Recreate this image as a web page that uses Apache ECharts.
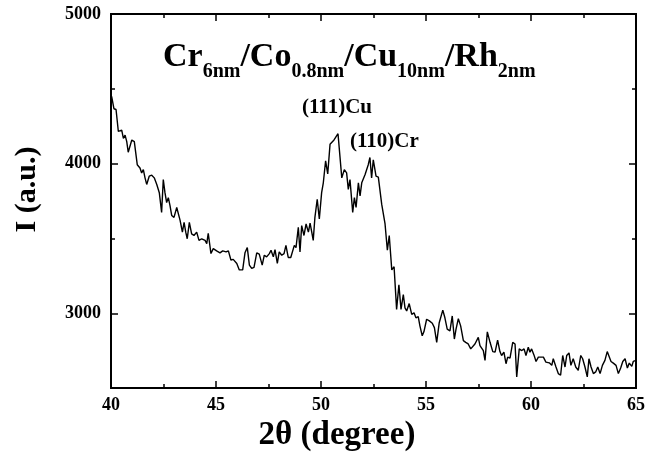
<!DOCTYPE html>
<html>
<head>
<meta charset="utf-8">
<script src="https://cdn.jsdelivr.net/npm/echarts@6/dist/echarts.min.js"></script>
<style>html,body{margin:0;padding:0;background:#fff;}#c{width:659px;height:457px;}</style>
</head>
<body>
<div id="c"></div>
<script>
var twoTheta = [40.03,40.14,40.24,40.35,40.51,40.59,40.67,40.75,40.82,40.99,41.11,41.25,41.38,41.46,41.54,41.62,41.70,41.82,41.94,42.06,42.18,42.30,42.41,42.49,42.57,42.65,42.73,42.81,42.89,43.00,43.13,43.29,43.40,43.48,43.56,43.63,43.73,43.84,43.95,44.08,44.19,44.32,44.48,44.56,44.63,44.76,44.87,45.03,45.19,45.32,45.48,45.59,45.71,45.82,45.99,46.11,46.14,46.27,46.38,46.49,46.59,46.70,46.81,46.94,47.06,47.20,47.30,47.41,47.54,47.62,47.73,47.81,47.92,48.01,48.13,48.24,48.33,48.44,48.56,48.63,48.73,48.81,48.92,49.00,49.08,49.19,49.29,49.40,49.48,49.56,49.63,49.71,49.82,49.92,50.03,50.11,50.22,50.32,50.43,50.62,50.81,50.99,51.11,51.22,51.30,51.38,51.51,51.59,51.67,51.78,51.86,51.94,52.10,52.25,52.33,52.41,52.49,52.62,52.73,52.89,53.05,53.16,53.25,53.37,53.48,53.60,53.71,53.81,53.92,54.00,54.08,54.20,54.32,54.43,54.52,54.63,54.71,54.82,54.90,55.03,55.16,55.30,55.40,55.51,55.63,55.80,55.90,56.01,56.14,56.25,56.35,56.43,56.54,56.65,56.78,56.89,57.01,57.13,57.22,57.33,57.49,57.57,57.65,57.73,57.81,57.92,58.05,58.18,58.29,58.41,58.52,58.60,58.71,58.81,58.89,59.00,59.13,59.24,59.32,59.44,59.56,59.67,59.76,59.87,59.95,60.03,60.14,60.24,60.35,60.46,60.59,60.71,60.87,60.99,61.06,61.19,61.30,61.41,61.51,61.62,61.70,61.81,61.90,62.01,62.13,62.25,62.37,62.46,62.57,62.68,62.76,62.86,62.97,63.08,63.18,63.29,63.40,63.52,63.63,63.71,63.81,63.92,64.05,64.16,64.27,64.37,64.48,64.59,64.68,64.80,64.87,65.00];
var intensity = [4450,4367,4362,4215,4224,4169,4191,4147,4076,4158,4147,3993,3971,3938,3960,3905,3861,3916,3923,3905,3861,3806,3674,3894,3806,3740,3773,3720,3654,3641,3707,3621,3542,3608,3542,3498,3608,3531,3520,3542,3487,3498,3487,3465,3535,3399,3432,3417,3404,3417,3410,3417,3356,3360,3333,3290,3285,3290,3404,3439,3322,3300,3307,3404,3395,3322,3388,3377,3399,3421,3377,3426,3333,3410,3388,3399,3454,3373,3373,3366,3454,3439,3575,3410,3586,3520,3597,3542,3602,3542,3487,3641,3762,3630,3806,3872,4019,3931,4129,4158,4200,3905,3960,3938,3828,3894,3674,3773,3707,3872,3784,3872,3927,3993,4041,3905,4026,3916,3910,3729,3597,3421,3520,3290,3311,3026,3191,3026,3125,3036,3015,3065,2993,3003,2970,2977,2916,2850,2876,2960,2949,2933,2904,2806,2937,3021,2970,2894,2883,2982,2828,2894,2964,2916,2817,2806,2795,2762,2766,2795,2839,2784,2795,2751,2685,2876,2806,2744,2740,2821,2744,2718,2740,2663,2707,2700,2806,2795,2575,2762,2751,2762,2718,2773,2740,2762,2722,2678,2707,2707,2707,2674,2669,2652,2696,2641,2597,2586,2718,2641,2718,2735,2652,2696,2641,2619,2718,2696,2641,2575,2696,2641,2597,2608,2641,2597,2652,2685,2744,2751,2678,2667,2652,2597,2634,2678,2696,2634,2667,2645,2678,2685];
var yMajorTicks = [3000, 4000, 5000];
var yMinorTicks = [3500, 4500];
var titleParts = [['Cr','6nm'],['/Co','0.8nm'],['/Cu','10nm'],['/Rh','2nm']];
var peakLabels = ['(111)Cu', '(110)Cr'];

var FONT = '"Liberation Serif", "Times New Roman", serif';
var chart = echarts.init(document.getElementById('c'), null, {renderer: 'canvas'});
var data = twoTheta.map(function (x, i) { return [x, intensity[i]]; });
var titleText = titleParts.map(function (p) { return '{a|' + p[0] + '}{s|' + p[1] + '}'; }).join('');

function xAx(pos, labels) {
  return {
    type: 'value', position: pos, min: 40, max: 65, interval: 5,
    axisLine: {show: true, onZero: false, lineStyle: {color: '#000', width: 2}},
    axisTick: {show: true, inside: true, length: 7, lineStyle: {color: '#000', width: 1.5}},
    minorTick: {show: true, splitNumber: 2, length: 4, lineStyle: {color: '#000', width: 1.5}},
    splitLine: {show: false}, minorSplitLine: {show: false},
    axisLabel: {show: labels, color: '#000', fontFamily: FONT, fontWeight: 'bold', fontSize: 18, margin: 8},
    name: labels ? '2\u03b8 (degree)' : '', nameLocation: 'middle', nameGap: 30,
    nameTextStyle: {color: '#000', fontFamily: FONT, fontWeight: 'bold', fontSize: 33, padding: [0, 73, 0, 0]}
  };
}
function yAx(pos, major, labels, name) {
  return {
    type: 'value', position: pos, min: 2500, max: 5000, interval: 500,
    axisLine: {show: true, onZero: false, lineStyle: {color: '#000', width: 2}},
    axisTick: {show: true, inside: true, length: major ? 7 : 4, customValues: major ? yMajorTicks : yMinorTicks, lineStyle: {color: '#000', width: 1.5}},
    splitLine: {show: false},
    axisLabel: {show: labels, customValues: yMajorTicks, formatter: function (v) { return String(v); }, color: '#000', fontFamily: FONT, fontWeight: 'bold', fontSize: 18, margin: 10},
    name: name ? 'I (a.u.)' : '', nameLocation: 'middle', nameGap: 69,
    nameTextStyle: {color: '#000', fontFamily: FONT, fontWeight: 'bold', fontSize: 30, padding: [0, 0, 0, 23]}
  };
}

chart.setOption({
  animation: false,
  backgroundColor: '#fff',
  grid: {left: 111, top: 14, width: 525, height: 379, containLabel: false},
  xAxis: [xAx('bottom', true), xAx('top', false)],
  yAxis: [yAx('left', true, true, true), yAx('left', false, false, false), yAx('right', true, false, false), yAx('right', false, false, false)],
  series: [{
    type: 'line', data: data, xAxisIndex: 0, yAxisIndex: 0,
    showSymbol: false, symbol: 'none',
    lineStyle: {color: '#000', width: 1.4}
  }],
  graphic: [
    {type: 'text', left: 163, top: 40, style: {
      text: titleText, fill: '#000',
      rich: {
        a: {fontFamily: FONT, fontWeight: 'bold', fontSize: 34, lineHeight: 34, verticalAlign: 'top', fill: '#000'},
        s: {fontFamily: FONT, fontWeight: 'bold', fontSize: 20, lineHeight: 42, verticalAlign: 'bottom', fill: '#000'}
      }
    }},
    {type: 'text', left: 302, top: 97, style: {text: peakLabels[0], fill: '#000', font: 'bold 21px ' + FONT}},
    {type: 'text', left: 350, top: 131, style: {text: peakLabels[1], fill: '#000', font: 'bold 21px ' + FONT}}
  ]
});
</script>
</body>
</html>
